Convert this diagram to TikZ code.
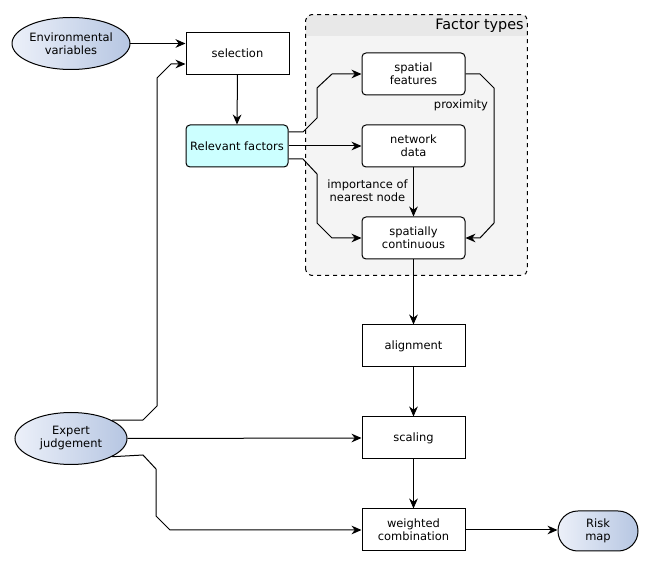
\documentclass[tikz,border=0pt]{standalone}
\usepackage{fontspec}
\setmainfont{DejaVu Sans}
\usetikzlibrary{shapes.geometric,arrows.meta,calc}
\definecolor{srcL}{RGB}{236,240,249}
\definecolor{srcR}{RGB}{182,198,226}
\definecolor{relfill}{RGB}{204,255,255}
\definecolor{ftfill}{RGB}{244,244,244}
\definecolor{ftband}{RGB}{232,232,232}
\begin{document}
\begin{tikzpicture}[x=0.75pt,y=-0.75pt,
  font=\fontsize{8.6}{9.75}\selectfont,
  box/.style={draw,line width=0.75pt,minimum width=77.25pt,minimum height=31.5pt,align=center,inner sep=1pt,fill=white},
  rbox/.style={box,rounded corners=3pt},
  src/.style={ellipse,draw,line width=0.75pt,minimum width=84pt,minimum height=39pt,align=center,inner sep=0pt,left color=srcL,right color=srcR},
  arr/.style={-{Stealth[length=7.5pt,width=6.5pt]},line width=0.75pt},
  line/.style={line width=0.75pt},
  lbl/.style={align=center,inner sep=0pt}]
\useasboundingbox (0,0) rectangle (654,566);

% Factor types container
\node[fill=ftfill,minimum width=165.75pt,minimum height=195pt,inner sep=0pt,rounded corners=4pt] (ft) at (416.5,145) {};
\fill[ftband] (ft.west |- 0,36) {[rounded corners=4pt] -- (ft.north west) -- (ft.north east)} -- (ft.east |- 0,36) -- cycle;
\draw[line width=0.75pt,dashed,rounded corners=4pt] (ft.south west) rectangle (ft.north east);
\node[anchor=east,inner sep=0pt,font=\fontsize{10.8}{12}\selectfont] (fttitle) at (524,26) {Factor types};

% nodes
\node[src] (env) at (71,43.5) {Environmental\\variables};
\node[src] (exp) at (71,438.5) {Expert\\judgement};
\node[box] (sel) at (237.5,53.5) {selection};
\node[rbox,fill=relfill,minimum width=76.5pt] (rel) at (237,146) {Relevant factors};
\node[rbox] (sf) at (413.5,74) {spatial\\features};
\node[rbox] (nd) at (413.5,146) {network\\data};
\node[rbox] (sc) at (413.5,238) {spatially\\continuous};
\node[box] (al) at (413.5,346) {alignment};
\node[box] (scal) at (413.5,438) {scaling};
\node[box] (wc) at (413.5,530) {weighted\\combination};
\node[draw,line width=0.75pt,rounded corners=14.9pt,minimum width=60pt,minimum height=30pt,align=center,inner sep=0pt,left color=srcL,right color=srcR] (risk) at (598,531) {Risk\\map};

% connectors
\draw[arr] (env.east) -- (sel.west |- env.east);
\draw[arr] (exp.24) -- (143,420) -- (157,406) -- (157,78) -- (171,64) -- ($(sel.west)+(0,10.5)$);
\draw[arr] (sel.south) -- (rel.north);
\draw[arr] ($(rel.east)+(0,-14)$) -- (303,132) -- (317,118) -- (317,88) -- (332,74) -- (sf.west);
\draw[arr] (rel.east) -- (nd.west);
\draw[arr] ($(rel.east)+(0,13)$) -- (303,159) -- (317,174) -- (317,223) -- (332,238) -- (sc.west);
\draw[arr] (sf.east) -- (480,74) -- (494,88) -- (494,223) -- (480,238) -- (sc.east);
\node[lbl] (prox) at (461,105) {proximity};
\draw[arr] (nd.south) -- (sc.north);
\node[lbl] (imp) at (367.5,191) {importance of\\nearest node};
\draw[arr] (sc.south) -- (al.north);
\draw[arr] (al.south) -- (scal.north);
\draw[arr] (scal.south) -- (wc.north);
\draw[arr] (exp.east) -- (scal.west);
\draw[arr] (exp.-24) -- (143,455) -- (156,469) -- (156,516) -- (170,530) -- (wc.west);
\draw[arr] (wc.east) -- (risk.west |- wc.east);
\end{tikzpicture}
\end{document}
